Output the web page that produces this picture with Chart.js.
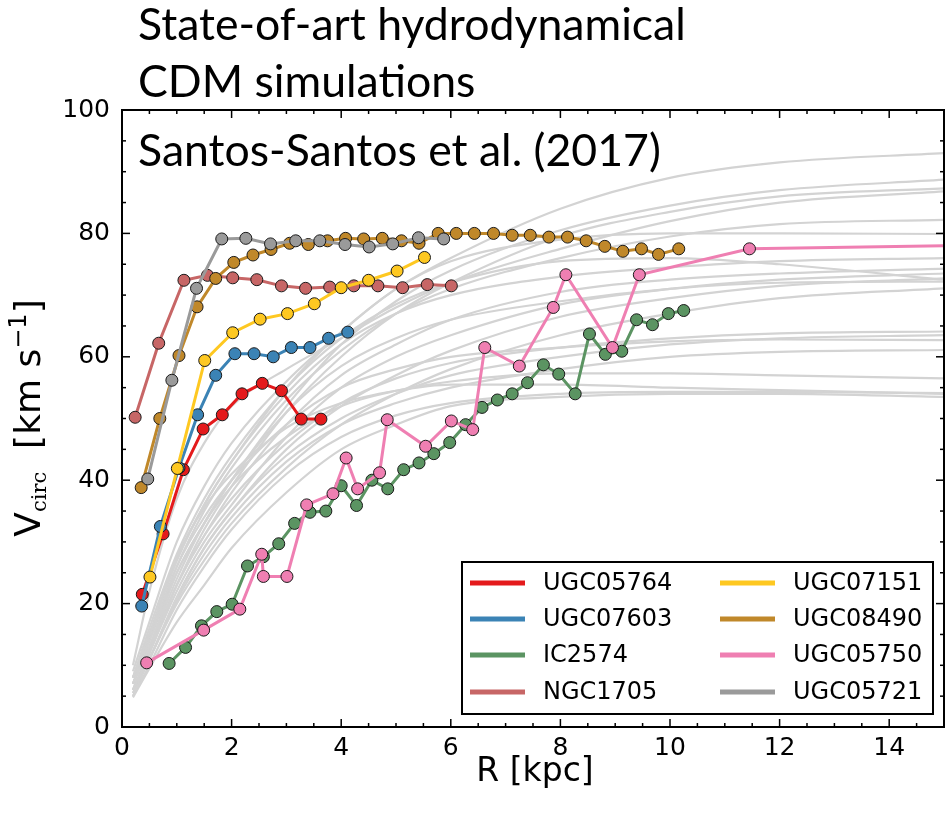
<!DOCTYPE html>
<html><head><meta charset="utf-8">
<script src="https://cdn.jsdelivr.net/npm/chart.js@4.4.1/dist/chart.umd.min.js"></script>
<style>
html,body{margin:0;padding:0;background:#fff;}
#wrap{position:relative;width:951px;height:814px;}
canvas{position:absolute;left:0;top:0;}
</style></head><body>
<div id="wrap"><canvas id="c" width="951" height="814"></canvas></div>
<script>
// ---------------- data ----------------
const X_TICKS = [0, 2, 4, 6, 8, 10, 12, 14];
const Y_TICKS = [0, 20, 40, 60, 80, 100];

const UGC05764_R = [0.37,0.75,1.12,1.48,1.83,2.19,2.56,2.91,3.27,3.63];
const UGC05764_V = [21.5,31.3,41.7,48.3,50.6,54.0,55.7,54.5,49.9,49.9];

const UGC07603_R = [0.36,0.70,1.04,1.38,1.71,2.06,2.41,2.76,3.09,3.43,3.77,4.12];
const UGC07603_V = [19.6,32.5,42.0,50.6,57.0,60.5,60.5,60.0,61.5,61.5,63.0,64.0];

const IC2574_R = [0.86,1.16,1.45,1.73,2.01,2.29,2.58,2.86,3.15,3.43,3.72,4.00,4.28,4.56,4.85,5.14,5.42,5.69,5.98,6.27,6.57,6.85,7.12,7.40,7.69,7.97,8.27,8.53,8.82,9.12,9.39,9.68,9.97,10.25];
const IC2574_V = [10.3,12.9,16.4,18.7,19.9,26.1,27.6,29.7,33.0,34.8,35.0,39.1,35.9,40.0,38.6,41.7,42.8,44.3,46.1,49.0,51.8,53.0,54.0,55.8,58.7,57.2,54.0,63.7,60.4,60.9,66.0,65.2,67.0,67.5];

const NGC1705_R = [0.24,0.67,1.13,1.56,2.02,2.46,2.91,3.35,3.79,4.23,4.67,5.12,5.57,6.01];
const NGC1705_V = [50.2,62.2,72.4,73.2,72.8,72.5,71.5,71.1,71.3,71.5,71.5,71.2,71.7,71.5];

const UGC07151_R = [0.51,1.01,1.51,2.02,2.52,3.02,3.51,4.00,4.50,5.02,5.52];
const UGC07151_V = [24.3,41.9,59.4,63.9,66.1,67.0,68.6,71.2,72.4,73.9,76.1];

const UGC08490_R = [0.35,0.69,1.04,1.37,1.71,2.04,2.39,2.72,3.06,3.40,3.75,4.08,4.41,4.75,5.10,5.42,5.77,6.10,6.43,6.78,7.12,7.45,7.79,8.13,8.47,8.81,9.14,9.48,9.79,10.16];
const UGC08490_V = [38.8,50.0,60.2,68.1,72.7,75.3,76.5,77.4,78.4,78.2,78.8,79.2,79.1,79.2,78.8,78.4,80.0,80.0,80.0,80.0,79.7,79.7,79.4,79.4,78.8,77.9,77.1,77.5,76.6,77.5];

const UGC05750_R = [0.45,1.49,2.15,2.55,2.58,3.01,3.37,3.85,4.09,4.30,4.70,4.84,5.54,6.01,6.40,6.62,7.25,7.87,8.10,8.95,9.44,11.45,15.6];
const UGC05750_V = [10.4,15.7,19.1,28.0,24.4,24.4,36.0,37.8,43.6,38.6,41.2,49.8,45.5,49.6,48.2,61.5,58.5,68.0,73.3,61.5,73.3,77.5,78.1];

const UGC05721_R = [0.47,0.91,1.36,1.82,2.26,2.71,3.17,3.61,4.07,4.51,4.94,5.41,5.87];
const UGC05721_V = [40.2,56.2,71.1,79.1,79.2,78.3,78.8,78.8,78.2,77.8,78.3,79.3,79.1];

// simulated rotation curves (grey), sampled at SIM_R
const SIM_R = [0.2,0.5,1,1.5,2,3,4,5,6,8,10,12,15];
const SIM_01 = [8,15,27,36,43,55,64,71,76,84,89,91.5,93];
const SIM_02 = [7,13,24,33,40,52,62,69,74,80.5,84.5,87,88.7];
const SIM_03 = [6,12,23,32,39,51,60,67,72,79.5,83.5,86,87.3];
const SIM_04 = [10,22,37,46,52,58,63,68,72,77.5,82,85,86.8];
const SIM_05 = [7,14,26,35,42,53,61,67,71,76,79.5,81.5,82.2];
const SIM_06 = [9,17,30,39,46,56,64,71,75.5,79,80,80,79.9];
const SIM_07 = [8,16,28,37,44,55,63,68.5,72,75.5,76,75,72.5];
const SIM_08 = [8,15,27,36,43,54,62,67,70,73,74.5,75.5,76];
const SIM_09 = [6,12,23,31,38,49,57,62,66,70.5,72.5,73.5,74.3];
const SIM_10 = [6,12,22,30,36,47,55,60,63.5,68.5,71,72.5,73.5];
const SIM_11 = [5.5,11,21,29,35,45,52,57,61,66.5,69.5,71.5,72.7];
const SIM_12 = [5,11,20,27,33,42,49,54,58,63.5,67,69.5,71.1];
const SIM_13 = [7,13,25,33,40,51,58.5,63,66,69,71,72,72.2];
const SIM_14 = [6,12.5,23,31,37,46,52.5,56.5,59,61.5,63,63.8,64.1];
const SIM_15 = [6,11,21,29,35,44,50,54,57,60,62,63,63.5];
const SIM_16 = [7,14,26,34,40,49,55,58,60,61.5,62.5,62.8,62.7];
const SIM_17 = [5.5,11,20.5,28,34,43,49,52.5,55,58,60,60.8,61.1];
const SIM_18 = [7,14,25,33,39,47,52,54.5,56,57.3,57.3,57,56.5];
const SIM_19 = [5,10,19,26,32,41,47,50.5,52.5,54,54.3,54.3,54.1];
const SIM_20 = [4.8,9.5,17,23,29,38,45,49,52,53.5,54,54,53.5];
const SIM_21 = [8,15,27.5,35.5,41,48.5,52.5,54.5,55.5,55.5,55,54.6,54];
const SIM_CURVES = [SIM_01,SIM_02,SIM_03,SIM_04,SIM_05,SIM_06,SIM_07,SIM_08,SIM_09,SIM_10,SIM_11,SIM_12,SIM_13,SIM_14,SIM_15,SIM_16,SIM_17,SIM_18,SIM_19,SIM_20,SIM_21];

const GALAXIES = [
  {name:'UGC05764', R:UGC05764_R, V:UGC05764_V, color:'#e41a1c'},
  {name:'UGC07603', R:UGC07603_R, V:UGC07603_V, color:'#3b83b5'},
  {name:'IC2574',   R:IC2574_R,   V:IC2574_V,   color:'#5b9462'},
  {name:'NGC1705',  R:NGC1705_R,  V:NGC1705_V,  color:'#c76666'},
  {name:'UGC07151', R:UGC07151_R, V:UGC07151_V, color:'#fec821'},
  {name:'UGC08490', R:UGC08490_R, V:UGC08490_V, color:'#c0882a'},
  {name:'UGC05750', R:UGC05750_R, V:UGC05750_V, color:'#ef7fb2'},
  {name:'UGC05721', R:UGC05721_R, V:UGC05721_V, color:'#9a9a9a'}
];

// ---------------- datasets ----------------
const pts = (R, V) => R.map((r, i) => ({x: r, y: V[i]}));
const datasets = [];
SIM_CURVES.forEach(v => datasets.push({
  label: '', isSim: true, data: pts(SIM_R, v),
  borderColor: '#d3d3d3', borderWidth: 2.2, pointRadius: 0,
  cubicInterpolationMode: 'monotone', order: 100, clip: 0
}));
GALAXIES.forEach((g, i) => datasets.push({
  label: g.name, isSim: false, data: pts(g.R, g.V),
  borderColor: g.color, backgroundColor: g.color, borderWidth: 3,
  pointRadius: 6, pointBorderWidth: 1, pointBorderColor: '#1a1a1a',
  pointBackgroundColor: g.color, tension: 0, order: 8 - i, clip: 0
}));

// ---------------- plugins ----------------
const deco = {
  id: 'deco',
  afterDatasetsDraw(chart) {
    const {ctx, chartArea: a, scales: {x, y}} = chart;
    ctx.save();
    ctx.strokeStyle = '#000';
    ctx.lineWidth = 1.5;
    const seg = (x1, y1, x2, y2) => { ctx.beginPath(); ctx.moveTo(x1, y1); ctx.lineTo(x2, y2); ctx.stroke(); };
    for (let k = 0; k <= 30; k++) {
      const v = k * 0.5;
      const px = x.getPixelForValue(v);
      const L = X_TICKS.includes(v) ? 8 : 4;
      seg(px, a.bottom, px, a.bottom - L);
      seg(px, a.top, px, a.top + L);
    }
    for (let k = 0; k <= 20; k++) {
      const v = k * 5;
      const py = y.getPixelForValue(v);
      const L = Y_TICKS.includes(v) ? 8 : 4;
      seg(a.left, py, a.left + L, py);
      seg(a.right, py, a.right - L, py);
    }
    ctx.lineWidth = 2;
    ctx.strokeRect(a.left, a.top, a.right - a.left, a.bottom - a.top);

    // legend (two columns, column-major)
    const items = chart.data.datasets.filter(d => !d.isSim);
    const box = {l: 462, t: 562, r: 933, b: 714};
    ctx.fillStyle = '#fff';
    ctx.fillRect(box.l, box.t, box.r - box.l, box.b - box.t);
    ctx.lineWidth = 2;
    ctx.strokeStyle = '#000';
    ctx.strokeRect(box.l, box.t, box.r - box.l, box.b - box.t);
    ctx.font = '24px "DejaVu Sans"';
    ctx.textBaseline = 'middle';
    ctx.textAlign = 'left';
    const colX = [470, 720];
    const rowY = [583, 619, 655, 692];
    items.forEach((d, i) => {
      const c = Math.floor(i / 4), r = i % 4;
      const x0 = colX[c], yy = rowY[r];
      ctx.strokeStyle = d.borderColor;
      ctx.lineWidth = 5;
      seg(x0, yy, x0 + 55, yy);
      ctx.fillStyle = '#000';
      ctx.fillText(d.label, x0 + 73, yy + 1);
    });
    ctx.restore();
  },
  afterDraw(chart) {
    const {ctx} = chart;
    ctx.save();
    ctx.fillStyle = '#000';
    // titles
    ctx.textAlign = 'left';
    ctx.textBaseline = 'alphabetic';
    ctx.font = '100px Lato';
    const w1 = ctx.measureText('State-of-art hydrodynamical').width;
    const fs = 100 * 548 / w1;
    ctx.font = fs.toFixed(1) + 'px Lato';
    ctx.fillText('State-of-art hydrodynamical', 138, 40);
    ctx.fillText('CDM simulations', 138, 97);
    ctx.fillText('Santos-Santos et al. (2017)', 138, 166);

    // x title
    ctx.font = '33px "DejaVu Sans"';
    ctx.textAlign = 'center';
    ctx.fillText('R [kpc]', 535, 781);

    // y title with sub/superscript
    const segs = [
      {t: 'V', f: '36px "DejaVu Sans"', dy: 0},
      {t: 'circ', f: '21px "DejaVu Serif"', dy: 6},
      {t: '  [km s', f: '36px "DejaVu Sans"', dy: 0},
      {t: '\u22121', f: '24px "DejaVu Sans"', dy: -14},
      {t: ']', f: '36px "DejaVu Sans"', dy: 0}
    ];
    let tot = 0;
    segs.forEach(s => { ctx.font = s.f; s.w = ctx.measureText(s.t).width; tot += s.w; });
    ctx.translate(27, 418);
    ctx.rotate(-Math.PI / 2);
    ctx.textAlign = 'left';
    let cx = -tot / 2;
    segs.forEach(s => { ctx.font = s.f; ctx.fillText(s.t, cx, 13 + s.dy); cx += s.w; });
    ctx.restore();
  }
};

new Chart(document.getElementById('c'), {
  type: 'line',
  data: {datasets},
  options: {
    responsive: false,
    devicePixelRatio: 1,
    animation: false,
    events: [],
    layout: {padding: {top: 110, right: 6, left: 0, bottom: 0}},
    plugins: {legend: {display: false}, tooltip: {enabled: false}, title: {display: false}},
    scales: {
      x: {
        type: 'linear', min: 0, max: 15,
        afterBuildTicks: s => { s.ticks = X_TICKS.map(v => ({value: v})); },
        afterFit: s => { s.height = 87; },
        grid: {display: false, drawTicks: false},
        border: {display: false},
        ticks: {autoSkip: false, maxRotation: 0, color: '#000', padding: 6,
                font: {family: 'DejaVu Sans', size: 25}}
      },
      y: {
        type: 'linear', min: 0, max: 100,
        afterBuildTicks: s => { s.ticks = Y_TICKS.map(v => ({value: v})); },
        afterFit: s => { s.width = 122; },
        grid: {display: false, drawTicks: false},
        border: {display: false},
        ticks: {color: '#000', padding: 12, font: {family: 'DejaVu Sans', size: 25}}
      }
    }
  },
  plugins: [deco]
});
</script>
</body></html>
